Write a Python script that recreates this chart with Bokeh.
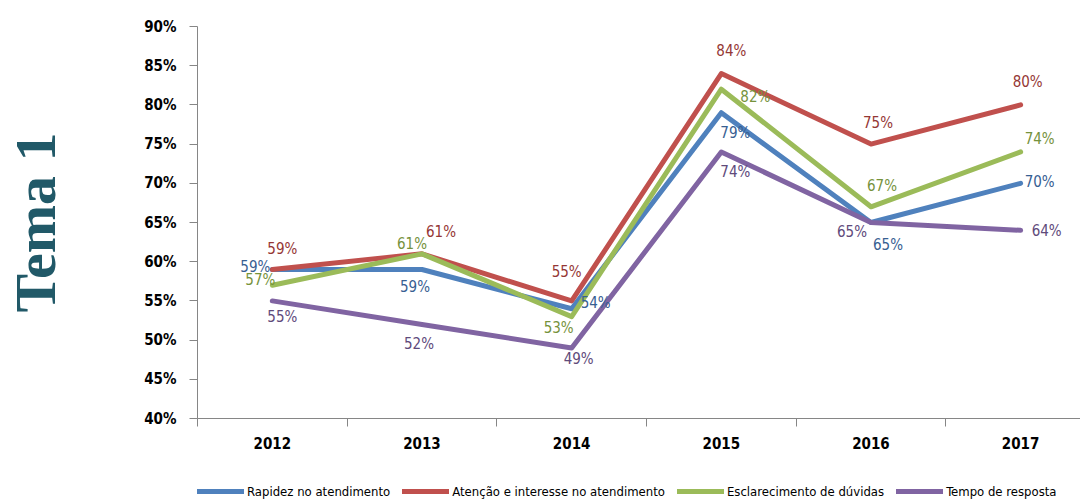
from bokeh.plotting import figure
from bokeh.layouts import column
from bokeh.models import (Range1d, FixedTicker, NumeralTickFormatter, Legend, LegendItem,
                          ColumnDataSource)
from bokeh.embed import file_html
from bokeh.resources import INLINE
from bokeh.core.properties import value

years = ["2012", "2013", "2014", "2015", "2016", "2017"]
series_names = ["Rapidez no atendimento", "Atenção e interesse no atendimento",
                "Esclarecimento de dúvidas", "Tempo de resposta"]
rapidez = [59, 59, 54, 79, 65, 70]
atencao = [59, 61, 55, 84, 75, 80]
esclarecimento = [57, 61, 53, 82, 67, 74]
tempo = [55, 52, 49, 74, 65, 64]
y_ticks = [40, 45, 50, 55, 60, 65, 70, 75, 80, 85, 90]

# styling (not data)
line_colors = ["#4F81BD", "#C0504D", "#9BBB59", "#8064A2"]
label_colors = ["#376092", "#953735", "#76923C", "#604A7B"]
label_dx = [[-17, -7, 24, 14, 17, 19],
            [10, 19, -5, 10, 7, 7],
            [-12, -10, -13, 34, 11, 19],
            [10, -3, 7, 14, -19, 26]]
label_dy = [[-3, 17, -6, 20, 22, -1],
            [-21, -22, -29, -23, -21, -23],
            [-5, -10, 11, 8, -21, -13],
            [16, 20, 11, 20, 9, 1]]

FONT = "DejaVu Sans Condensed"

p = figure(width=1080, height=478, output_backend="svg", toolbar_location=None,
           x_range=Range1d(0, 5.9), y_range=Range1d(0.40, 0.90),
           min_border_left=197, min_border_right=0, min_border_top=26, min_border_bottom=60)
p.outline_line_color = None
p.xgrid.grid_line_color = None
p.ygrid.grid_line_color = None
p.background_fill_color = "white"
p.border_fill_color = "white"

xs = [i + 0.5 for i in range(len(years))]

# x axis
xa = p.xaxis[0]
xa.ticker = FixedTicker(ticks=xs, minor_ticks=list(range(0, 7)))
xa.major_label_overrides = {x: y for x, y in zip(xs, years)}
xa.major_tick_line_color = None
xa.minor_tick_in = 0
xa.minor_tick_out = 8
xa.minor_tick_line_color = "#868686"
xa.axis_line_color = "#868686"
xa.major_label_standoff = 10
xa.major_label_text_font = FONT
xa.major_label_text_font_style = "bold"
xa.major_label_text_font_size = "15px"
xa.major_label_text_color = "black"

# y axis
ya = p.yaxis[0]
ya.ticker = FixedTicker(ticks=[t / 100 for t in y_ticks])
ya.formatter = NumeralTickFormatter(format="0%")
ya.major_tick_in = 0
ya.major_tick_out = 8
ya.minor_tick_line_color = None
ya.major_tick_line_color = "#868686"
ya.axis_line_color = "#868686"
ya.major_label_standoff = 13
ya.major_label_text_font = FONT
ya.major_label_text_font_style = "bold"
ya.major_label_text_font_size = "15px"
ya.major_label_text_color = "black"
ya.axis_label = "Tema 1"
ya.axis_label_text_font = "Liberation Serif"
ya.axis_label_text_font_style = "bold"
ya.axis_label_text_font_size = "58px"
ya.axis_label_text_color = "#215968"
ya.axis_label_standoff = 73

all_series = [rapidez, atencao, esclarecimento, tempo]
line_sources = []
for k, vals in enumerate(all_series):
    src = ColumnDataSource(dict(x=xs, y=[v / 100 for v in vals]))
    line_sources.append(src)
    p.line("x", "y", source=src, line_color=line_colors[k], line_width=5,
           line_join="round", line_cap="round")

for k, vals in enumerate(all_series):
    src = ColumnDataSource(dict(x=xs, y=[v / 100 for v in vals],
                                t=["%d%%" % v for v in vals],
                                dx=label_dx[k], dy=label_dy[k]))
    p.text("x", "y", text="t", source=src, x_offset="dx", y_offset="dy",
           text_align="center", text_baseline="middle",
           text_font=value(FONT), text_font_size="15px", text_color=label_colors[k])

# legend strip below the chart (its own view window lies away from the data)
lg = figure(width=1080, height=26, output_backend="svg", toolbar_location=None,
            x_range=Range1d(100, 101), y_range=Range1d(100, 101),
            min_border=0, x_axis_type=None, y_axis_type=None)
lg.outline_line_color = None
lg.xgrid.grid_line_color = None
lg.ygrid.grid_line_color = None
items = []
for k in range(len(all_series)):
    r = lg.line("x", "y", source=line_sources[k], line_color=line_colors[k],
                line_width=5, line_cap="round")
    items.append(LegendItem(label=series_names[k], renderers=[r]))
legend = Legend(items=items, orientation="horizontal", location=(0, 3),
                glyph_width=47, glyph_height=20, label_standoff=3, spacing=12,
                padding=0, margin=0, border_line_color=None,
                label_text_font=FONT, label_text_font_size="13px",
                label_text_color="black", background_fill_alpha=0)
lg.add_layout(legend, "center")

layout = column(p, lg, spacing=0)
open("out.html", "w").write(file_html(layout, INLINE))
